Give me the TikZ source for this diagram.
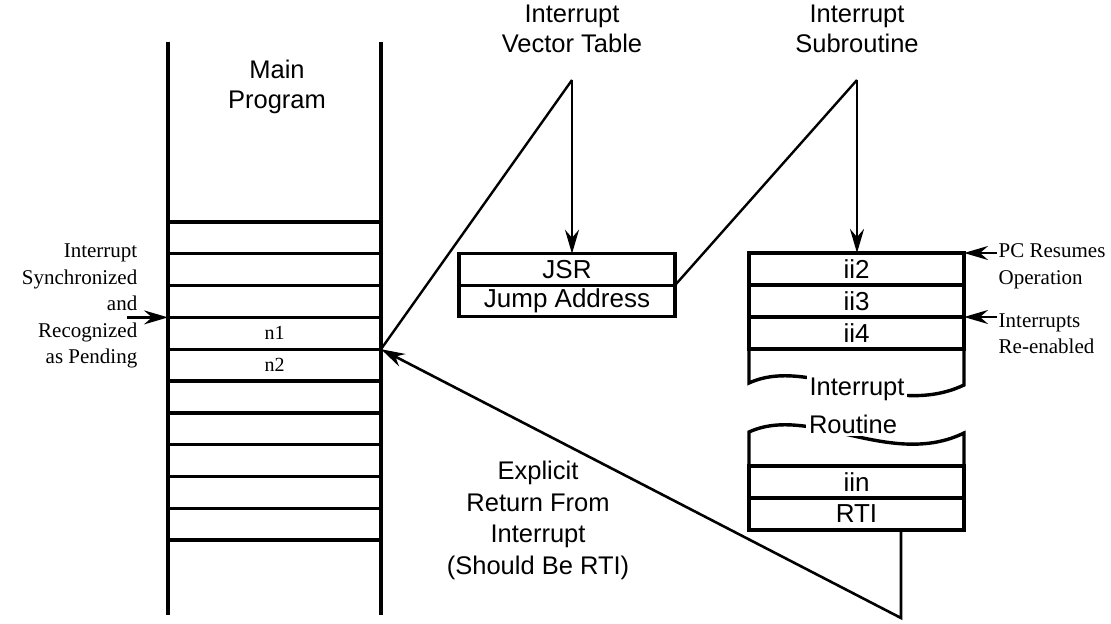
\documentclass[tikz,border=0pt]{standalone}
\usepackage{fontspec}
\setmainfont{Liberation Serif}
\setsansfont{Liberation Sans}
\usetikzlibrary{arrows.meta,positioning}

\begin{document}
\begin{tikzpicture}[
  x=1bp, y=-1bp,
  line width=3.4bp,
  cell/.style={rectangle, draw, line width=3.4bp, minimum width=215bp, minimum height=32bp, inner sep=0pt, outer sep=0pt, font=\sffamily\fontsize{26bp}{30bp}\selectfont},
  lbl/.style={align=center, inner sep=0pt, font=\sffamily\fontsize{25.5bp}{30bp}\selectfont},
  note/.style={inner sep=0pt, font=\rmfamily\fontsize{21bp}{26.5bp}\selectfont},
  gapfill/.style={lbl, fill=white, inner xsep=3bp, inner ysep=3bp},
  wire/.style={line width=2.4bp},
  flow/.style={-{Stealth[length=24bp,width=14bp,inset=8bp]}, line width=2.6bp}
]
  \useasboundingbox (0,0) rectangle (1111,624);

  % main program column
  \draw (168,42) -- (168,615);
  \draw (381,42) -- (381,615);
  \foreach \r in {0,...,10}
    \draw (168,222+31.8*\r) -- (381,222+31.8*\r);
  \node[lbl] (mainl) at (277,87) {Main\\Program};
  \node[note, font=\rmfamily\fontsize{20bp}{24bp}\selectfont] (n1) at (274.5,333.3) {n1};
  \node[note, font=\rmfamily\fontsize{20bp}{24bp}\selectfont] (n2) at (274.5,365.1) {n2};
  \coordinate (pend) at (168,317.4);
  \coordinate (nret) at (381,349.2);

  % vector table
  \node[lbl] (vtab) at (572,29) {Interrupt\\Vector Table};
  \node[cell, minimum width=216bp, minimum height=31.5bp] (jsr) at (567,269.5) {JSR};
  \node[cell, minimum width=216bp, minimum height=31.5bp, below=0pt of jsr] (jump) {Jump Address};
  \coordinate (vtop) at (572,80);

  % interrupt subroutine
  \node[lbl] (subr) at (857,29) {Interrupt\\Subroutine};
  \node[cell] (ii2) at (856.5,269) {ii2};
  \node[cell, below=0pt of ii2] (ii3) {ii3};
  \node[cell, below=0pt of ii3] (ii4) {ii4};
  \node[cell] (iin) at (856.5,482) {iin};
  \node[cell, below=0pt of iin] (rti) {RTI};
  \coordinate (stop) at (857,80);

  % broken sides
  \draw (ii4.south west) -- (749,383) .. controls (810,355) and (890,420) .. (964,385) -- (ii4.south east);
  \draw (iin.north west) -- (749,432) .. controls (810,404) and (890,469) .. (964,433) -- (iin.north east);
  \node[gapfill] (rtn) at (853,424) {Routine};
  \node[gapfill] (irt) at (857,389) {Interrupt};

  % side notes
  \node[note, align=right, anchor=east] (syncl) at (139,306) {Interrupt\\Synchronized\\and\\Recognized\\as Pending};
  \node[note, align=left, anchor=west] (pcres) at (997,266.5) {PC Resumes\\Operation};
  \node[note, align=left, anchor=west] (reen) at (997,333.5) {Interrupts\\Re-enabled};
  \node[lbl, font=\sffamily\fontsize{25.5bp}{31.5bp}\selectfont] (expl) at (538,520.5) {Explicit\\Return From\\Interrupt\\(Should Be RTI)};

  % connectors
  \draw[flow] ([xshift=-12bp]syncl.east |- pend) -- (pend);
  \draw[wire] (nret) -- (vtop);
  \draw[flow] (vtop) -- (vtop |- jsr.north);
  \draw[wire] (jsr.south east) -- (stop);
  \draw[flow] (stop) -- (stop |- ii2.north);
  \draw[flow] (pcres.west |- ii2.north east) -- (ii2.north east);
  \draw[flow] (reen.west |- ii3.south east) -- (ii3.south east);
  \coordinate (rbot) at (901,618);
  \draw[flow] (rti.south -| rbot) -- (rbot) -- (nret);
\end{tikzpicture}
\end{document}
